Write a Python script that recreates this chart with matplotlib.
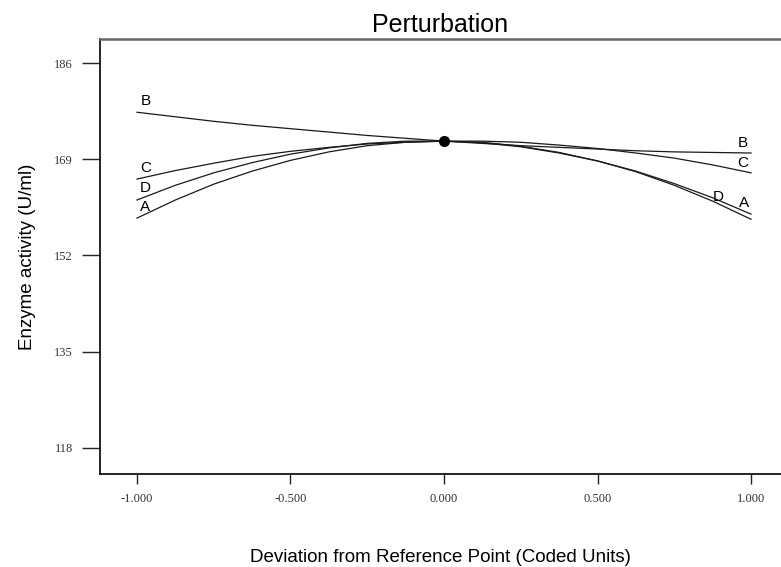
import numpy as np
import matplotlib
matplotlib.use('Agg')
import matplotlib.pyplot as plt

# coded deviation from reference point
dev = [-1.0, -0.875, -0.75, -0.625, -0.5, -0.375, -0.25, -0.125, 0.0,
       0.125, 0.25, 0.375, 0.5, 0.625, 0.75, 0.875, 1.0]

# enzyme activity (U/ml)
act_A = [158.6, 161.8, 164.6, 166.9, 168.8, 170.3, 171.4, 172.0, 172.2,
         172.0, 171.3, 170.2, 168.7, 166.8, 164.4, 161.6, 158.4]
act_B = [177.3, 176.5, 175.7, 175.0, 174.4, 173.8, 173.2, 172.7, 172.2,
         171.8, 171.4, 171.1, 170.8, 170.5, 170.3, 170.2, 170.1]
act_C = [165.5, 167.0, 168.3, 169.5, 170.4, 171.1, 171.7, 172.0, 172.2,
         172.2, 172.0, 171.5, 170.9, 170.1, 169.2, 168.0, 166.6]
act_D = [161.8, 164.4, 166.6, 168.4, 169.9, 171.0, 171.8, 172.2, 172.2,
         171.9, 171.2, 170.1, 168.7, 166.9, 164.7, 162.2, 159.3]

names = ['A', 'B', 'C', 'D']
yticks = [118, 135, 152, 169, 186]
xticks = [-1.0, -0.5, 0.0, 0.5, 1.0]
xticklabels = ['-1.000', '-0.500', '0.000', '0.500', '1.000']

ref_x = 0.0
ref_y = 172.2

fig = plt.figure(figsize=(7.81, 5.67), dpi=100)
ax = fig.add_axes([100/781, 1 - 474/567, 1 - 100/781, (474 - 39)/567])

series = {'A': act_A, 'B': act_B, 'C': act_C, 'D': act_D}
for n in names:
    ax.plot(dev, series[n], color='#1a1a1a', lw=0.9)

ax.plot([ref_x], [ref_y], 'o', color='black', ms=7)

# letter labels next to the curve ends
lab_font = dict(fontsize=11, family='Liberation Sans', ha='center', va='center')
left_off = {'A': (6, 8), 'B': (6, 8), 'C': (6, 8), 'D': (6, 8.5)}
for n in names:
    ax.annotate(n, (dev[0], series[n][0]), xytext=left_off[n],
                textcoords='offset points', **lab_font)
right_off = {'A': (-5, 12), 'B': (-6, 7), 'C': (-6, 7)}
for n in ['A', 'B', 'C']:
    ax.annotate(n, (dev[-1], series[n][-1]), xytext=right_off[n],
                textcoords='offset points', **lab_font)
ax.annotate('D', (0.875, act_D[15]), xytext=(4, 0.5), textcoords='offset points', **lab_font)

ax.set_xlim(-1.1205, 1.0977)
ax.set_ylim(113.4, 190.24)

ax.set_xticks(xticks)
ax.set_xticklabels(xticklabels)
ax.set_yticks(yticks)
ax.set_yticklabels([str(v) for v in yticks])
for lbl in ax.get_xticklabels() + ax.get_yticklabels():
    lbl.set_family('Liberation Serif')
    lbl.set_fontsize(9)
    lbl.set_color('#333333')
ax.tick_params(axis='y', direction='out', length=13, width=1.0, pad=6.5, color='#222222')
ax.tick_params(axis='x', direction='out', length=7, width=1.0, pad=6.5, color='#222222')

ax.spines['right'].set_visible(False)
ax.spines['top'].set_color('#666666')
ax.spines['top'].set_linewidth(1.8)
ax.spines['left'].set_linewidth(1.2)
ax.spines['bottom'].set_linewidth(1.2)

ax.set_title('Perturbation', fontsize=18, family='Liberation Sans', pad=5)
ax.set_xlabel('Deviation from Reference Point (Coded Units)', fontsize=13.5,
              family='Liberation Sans', labelpad=32)
ax.set_ylabel('Enzyme activity (U/ml)', fontsize=13.5, family='Liberation Sans',
              labelpad=13)

plt.savefig('out.png', dpi=100)
